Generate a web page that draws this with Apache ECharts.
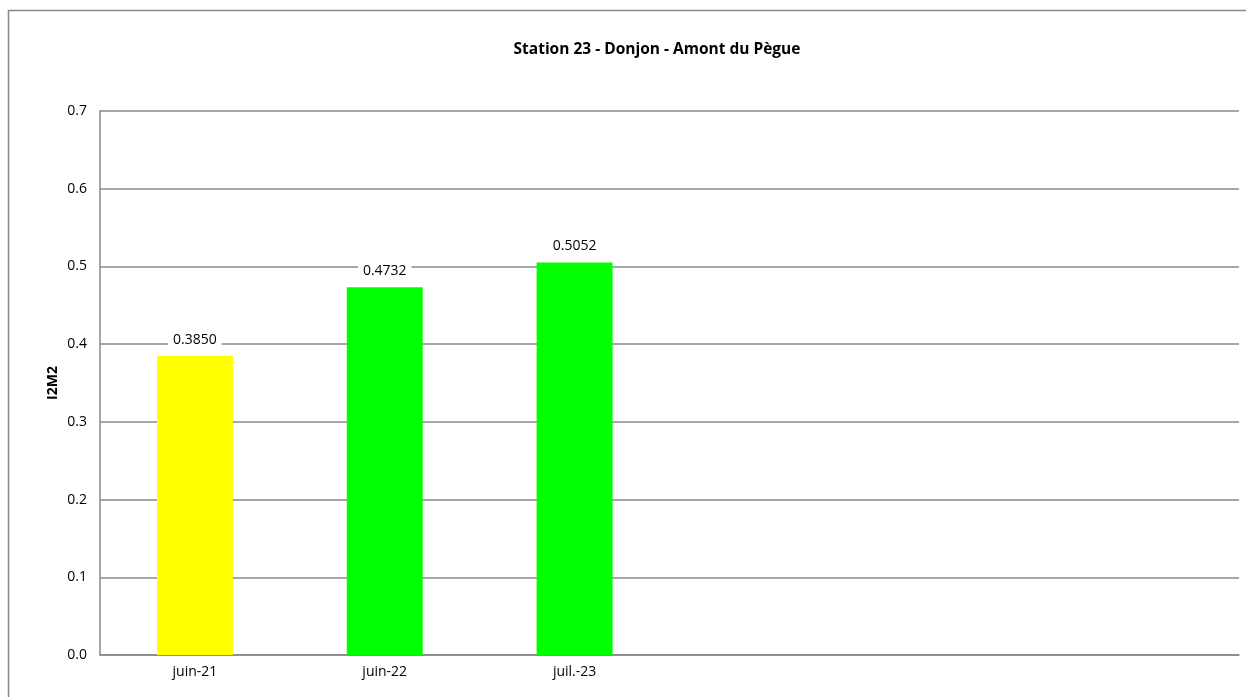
<!DOCTYPE html>
<html><head><meta charset="utf-8">
<script src="https://cdn.jsdelivr.net/npm/echarts@6/dist/echarts.min.js"></script>
<style>html,body{margin:0;padding:0;background:#fff}#c{width:1246px;height:697px}</style>
</head><body><div id="c"></div>
<script>
const categories = ['juin-21', 'juin-22', 'juil.-23', '', '', ''];
const values = [0.3850, 0.4732, 0.5052, null, null, null];
const barColors = ['#FFFF00', '#00FF00', '#00FF00', '#00FF00', '#00FF00', '#00FF00'];
const yTicks = [0, 0.1, 0.2, 0.3, 0.4, 0.5, 0.6, 0.7];

const font = '"Open Sans", "Noto Sans", sans-serif';
const chart = echarts.init(document.getElementById('c'));
chart.setOption({
  animation: false,
  title: {
    text: 'Station 23 - Donjon - Amont du Pègue',
    left: 652, top: 37, textAlign: 'center',
    textStyle: {fontFamily: font, fontSize: 15.5, fontWeight: 'bold', color: '#000'}
  },
  graphic: [{
    type: 'rect', shape: {x: 8.5, y: 10.5, width: 1300, height: 800},
    style: {fill: 'none', stroke: '#888', lineWidth: 1.5}, silent: true, z: -1
  }],
  grid: {left: 100, right: 7, top: 111, bottom: 42},
  xAxis: {
    type: 'category', data: categories,
    axisLine: {show: true, lineStyle: {color: '#888', width: 1.5}},
    axisTick: {show: false},
    axisLabel: {margin: 10, fontFamily: font, fontSize: 14, color: '#000'},
    splitLine: {show: false}
  },
  yAxis: {
    type: 'value', min: yTicks[0], max: yTicks[yTicks.length - 1], interval: 0.1,
    name: 'I2M2', nameLocation: 'middle', nameGap: 40, nameRotate: 90,
    nameMoveOverlap: false,
    nameTextStyle: {fontFamily: font, fontSize: 14, fontWeight: 'bold', color: '#000'},
    axisLine: {show: true, lineStyle: {color: '#888', width: 1.5}},
    axisTick: {show: false},
    axisLabel: {margin: 13, fontFamily: font, fontSize: 14, color: '#000',
      formatter: v => v.toFixed(1)},
    splitLine: {show: true, lineStyle: {color: '#888', width: 1.5}}
  },
  series: [{
    type: 'bar', barWidth: '40%',
    data: values.map((v, i) => ({value: v, itemStyle: {color: barColors[i]}})),
    label: {
      show: true, position: 'top', distance: 7,
      formatter: p => p.value == null ? '' : Number(p.value).toFixed(4),
      fontFamily: font, fontSize: 14, color: '#000',
      backgroundColor: '#fff', padding: [2, 5]
    }
  }]
});
</script></body></html>
